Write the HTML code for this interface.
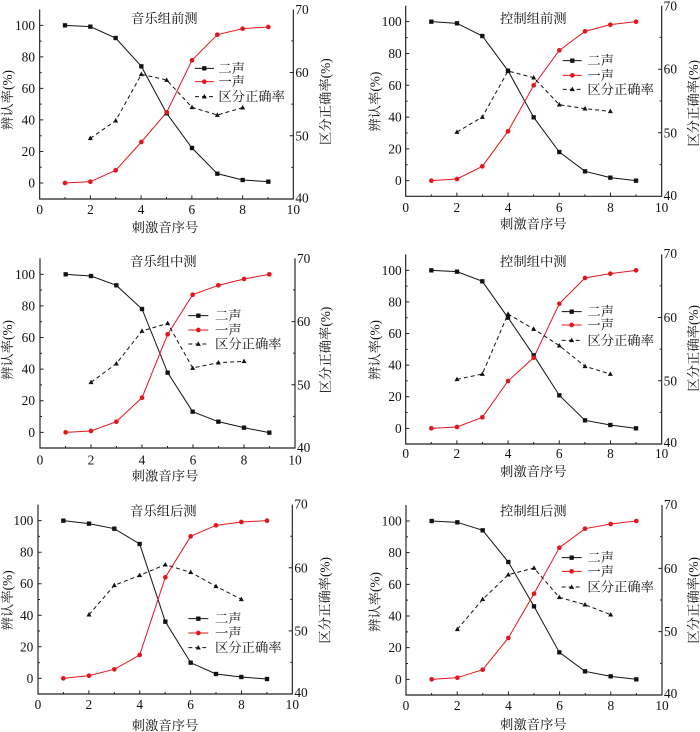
<!DOCTYPE html>
<html><head><meta charset="utf-8">
<style>
html,body{margin:0;padding:0;background:#fff;}
svg{display:block;}
text{font-family:"Liberation Serif","Noto Serif CJK SC",serif;font-size:40px;fill:#111;}
.ax{fill:none;stroke:#222;stroke-width:3.5;}
.tk{fill:none;stroke:#222;stroke-width:3;}
.k{fill:none;stroke:#111;stroke-width:3;}
.r{fill:none;stroke:#e3151d;stroke-width:3;}
.d{fill:none;stroke:#111;stroke-width:3;stroke-dasharray:12,9;}
.e{text-anchor:end;dominant-baseline:central;}
.m{text-anchor:middle;dominant-baseline:central;}
.s{text-anchor:start;dominant-baseline:central;}
</style></head><body>
<svg width="700" height="732" viewBox="0 0 700 732" xmlns="http://www.w3.org/2000/svg">
<defs>
<rect id="sq" x="-6.5" y="-6.5" width="13" height="13" fill="#111"/>
<circle id="ci" r="7" fill="#e3151d"/>
<path id="tr" d="M0,-8L7.5,5.5L-7.5,5.5Z" fill="#111"/>
</defs>

<!-- Panel 1 -->
<g transform="translate(0,0) scale(0.333333)">
<path class="ax" d="M119,28V597H880V28"/>
<path class="tk" d="M195.1,597v-6M271.2,597v-11M347.3,597v-6M423.4,597v-11M499.5,597v-6M575.6,597v-11M651.7,597v-6M727.8,597v-11M803.9,597v-6M119,549h11M119,454.4h11M119,359.8h11M119,265.2h11M119,170.6h11M119,76h11M119,501.7h6M119,407.1h6M119,312.5h6M119,217.9h6M119,123.3h6M880,407.3h-11M880,217.6h-11M880,502.2h-6M880,312.5h-6M880,122.8h-6"/>
<text class="e" x="105" y="549">0</text><text class="e" x="105" y="454.4">20</text><text class="e" x="105" y="359.8">40</text><text class="e" x="105" y="265.2">60</text><text class="e" x="105" y="170.6">80</text><text class="e" x="105" y="76">100</text>
<text class="m" x="119" y="628">0</text><text class="m" x="271.2" y="628">2</text><text class="m" x="423.4" y="628">4</text><text class="m" x="575.6" y="628">6</text><text class="m" x="727.8" y="628">8</text><text class="m" x="880" y="628">10</text>
<text class="s" x="886" y="594">40</text><text class="s" x="886" y="407.3">50</text><text class="s" x="886" y="217.6">60</text><text class="s" x="886" y="28">70</text>
<text class="m" x="495" y="683">刺激音序号</text>
<text class="m" transform="translate(22,300) rotate(-90)">辨认率(%)</text>
<text class="m" transform="translate(977,305) rotate(-90)">区分正确率(%)</text>
<text class="m" x="493" y="55">音乐组前测</text>
<polyline class="k" points="195,76 271,80 347,114 424,199 500,340 576,444 652,521 728,540 805,545"/>
<polyline class="r" points="195,549 271,545 347,511 424,426 500,337 576,181 652,104 728,86 805,81"/>
<polyline class="d" points="271,415 347,362 424,223 500,240 576,322 652,345 728,323"/>
<use href="#sq" x="195" y="76"/><use href="#sq" x="271" y="80"/><use href="#sq" x="347" y="114"/><use href="#sq" x="424" y="199"/><use href="#sq" x="500" y="340"/><use href="#sq" x="576" y="444"/><use href="#sq" x="652" y="521"/><use href="#sq" x="728" y="540"/><use href="#sq" x="805" y="545"/>
<use href="#ci" x="195" y="549"/><use href="#ci" x="271" y="545"/><use href="#ci" x="347" y="511"/><use href="#ci" x="424" y="426"/><use href="#ci" x="500" y="337"/><use href="#ci" x="576" y="181"/><use href="#ci" x="652" y="104"/><use href="#ci" x="728" y="86"/><use href="#ci" x="805" y="81"/>
<use href="#tr" x="271" y="415"/><use href="#tr" x="347" y="362"/><use href="#tr" x="424" y="223"/><use href="#tr" x="500" y="240"/><use href="#tr" x="576" y="322"/><use href="#tr" x="652" y="345"/><use href="#tr" x="728" y="323"/>
<path class="k" d="M585,205H642"/><use href="#sq" x="613" y="205"/><text class="s" x="655" y="205">二声</text>
<path class="r" d="M585,245H642"/><use href="#ci" x="613" y="245"/><text class="s" x="655" y="245">一声</text>
<path class="d" d="M585,290H642"/><use href="#tr" x="613" y="290"/><text class="s" x="655" y="290">区分正确率</text>
</g>

<!-- Panel 2 -->
<g transform="translate(350,0) scale(0.333333)">
<path class="ax" d="M167,17V589H935V17"/>
<path class="tk" d="M243.8,589v-6M320.6,589v-11M397.4,589v-6M474.2,589v-11M551,589v-6M627.8,589v-11M704.6,589v-6M781.4,589v-11M858.2,589v-6M167,542h11M167,446.6h11M167,351.2h11M167,255.8h11M167,160.4h11M167,65h11M167,494.3h6M167,398.9h6M167,303.5h6M167,208.1h6M167,112.7h6M935,398.3h-11M935,207.7h-11M935,493.7h-6M935,303h-6M935,112.3h-6"/>
<text class="e" x="155" y="542">0</text><text class="e" x="155" y="446.6">20</text><text class="e" x="155" y="351.2">40</text><text class="e" x="155" y="255.8">60</text><text class="e" x="155" y="160.4">80</text><text class="e" x="155" y="65">100</text>
<text class="m" x="167" y="622">0</text><text class="m" x="320.6" y="622">2</text><text class="m" x="474.2" y="622">4</text><text class="m" x="627.8" y="622">6</text><text class="m" x="781.4" y="622">8</text><text class="m" x="935" y="622">10</text>
<text class="s" x="941" y="587">40</text><text class="s" x="941" y="398.3">50</text><text class="s" x="941" y="207.7">60</text><text class="s" x="941" y="18">70</text>
<text class="m" x="550" y="672">刺激音序号</text>
<text class="m" transform="translate(75,305) rotate(-90)">辨认率(%)</text>
<text class="m" transform="translate(1030,310) rotate(-90)">区分正确率(%)</text>
<text class="m" x="550" y="55">控制组前测</text>
<polyline class="k" points="244,65 321,70 397,108 474,212 551,352 628,456 705,514 781,533 858,542"/>
<polyline class="r" points="244,542 321,537 397,499 474,394 551,256 628,151 705,94 781,74 858,65"/>
<polyline class="d" points="321,396 397,351 474,213 551,233 628,314 705,326 781,334"/>
<use href="#sq" x="244" y="65"/><use href="#sq" x="321" y="70"/><use href="#sq" x="397" y="108"/><use href="#sq" x="474" y="212"/><use href="#sq" x="551" y="352"/><use href="#sq" x="628" y="456"/><use href="#sq" x="705" y="514"/><use href="#sq" x="781" y="533"/><use href="#sq" x="858" y="542"/>
<use href="#ci" x="244" y="542"/><use href="#ci" x="321" y="537"/><use href="#ci" x="397" y="499"/><use href="#ci" x="474" y="394"/><use href="#ci" x="551" y="256"/><use href="#ci" x="628" y="151"/><use href="#ci" x="705" y="94"/><use href="#ci" x="781" y="74"/><use href="#ci" x="858" y="65"/>
<use href="#tr" x="321" y="396"/><use href="#tr" x="397" y="351"/><use href="#tr" x="474" y="213"/><use href="#tr" x="551" y="233"/><use href="#tr" x="628" y="314"/><use href="#tr" x="705" y="326"/><use href="#tr" x="781" y="334"/>
<path class="k" d="M638,182H695"/><use href="#sq" x="667" y="182"/><text class="s" x="712" y="182">二声</text>
<path class="r" d="M638,226H695"/><use href="#ci" x="667" y="226"/><text class="s" x="712" y="226">一声</text>
<path class="d" d="M638,268H695"/><use href="#tr" x="667" y="268"/><text class="s" x="712" y="268">区分正确率</text>
</g>

<!-- Panel 3 -->
<g transform="translate(0,245) scale(0.333333)">
<path class="ax" d="M120,40V609H885V40"/>
<path class="tk" d="M196.5,609v-6M273,609v-11M349.5,609v-6M426,609v-11M502.5,609v-6M579,609v-11M655.5,609v-6M732,609v-11M808.5,609v-6M120,562h11M120,467.2h11M120,372.4h11M120,277.6h11M120,182.8h11M120,88h11M120,514.6h6M120,419.8h6M120,325h6M120,230.2h6M120,135.4h6M885,419.3h-11M885,229.7h-11M885,514.2h-6M885,324.5h-6M885,134.8h-6"/>
<text class="e" x="105" y="562">0</text><text class="e" x="105" y="467.2">20</text><text class="e" x="105" y="372.4">40</text><text class="e" x="105" y="277.6">60</text><text class="e" x="105" y="182.8">80</text><text class="e" x="105" y="88">100</text>
<text class="m" x="120" y="645">0</text><text class="m" x="273" y="645">2</text><text class="m" x="426" y="645">4</text><text class="m" x="579" y="645">6</text><text class="m" x="732" y="645">8</text><text class="m" x="885" y="645">10</text>
<text class="s" x="891" y="607">40</text><text class="s" x="891" y="419.3">50</text><text class="s" x="891" y="229.7">60</text><text class="s" x="891" y="40">70</text>
<text class="m" x="495" y="693">刺激音序号</text>
<text class="m" transform="translate(22,315) rotate(-90)">辨认率(%)</text>
<text class="m" transform="translate(977,315) rotate(-90)">区分正确率(%)</text>
<text class="m" x="490" y="50">音乐组中测</text>
<polyline class="k" points="197,88 273,93 349,121 426,192 503,383 578,500 655,530 732,548 808,563"/>
<polyline class="r" points="197,562 273,558 349,530 426,458 503,268 578,149 655,121 732,102 808,88"/>
<polyline class="d" points="273,412 349,356 426,258 503,235 578,369 655,353 732,349"/>
<use href="#sq" x="197" y="88"/><use href="#sq" x="273" y="93"/><use href="#sq" x="349" y="121"/><use href="#sq" x="426" y="192"/><use href="#sq" x="503" y="383"/><use href="#sq" x="578" y="500"/><use href="#sq" x="655" y="530"/><use href="#sq" x="732" y="548"/><use href="#sq" x="808" y="563"/>
<use href="#ci" x="197" y="562"/><use href="#ci" x="273" y="558"/><use href="#ci" x="349" y="530"/><use href="#ci" x="426" y="458"/><use href="#ci" x="503" y="268"/><use href="#ci" x="578" y="149"/><use href="#ci" x="655" y="121"/><use href="#ci" x="732" y="102"/><use href="#ci" x="808" y="88"/>
<use href="#tr" x="273" y="412"/><use href="#tr" x="349" y="356"/><use href="#tr" x="426" y="258"/><use href="#tr" x="503" y="235"/><use href="#tr" x="578" y="369"/><use href="#tr" x="655" y="353"/><use href="#tr" x="732" y="349"/>
<path class="k" d="M565,212H625"/><use href="#sq" x="595" y="212"/><text class="s" x="645" y="212">二声</text>
<path class="r" d="M565,255H625"/><use href="#ci" x="595" y="255"/><text class="s" x="645" y="255">一声</text>
<path class="d" d="M565,297H625"/><use href="#tr" x="595" y="297"/><text class="s" x="645" y="297">区分正确率</text>
</g>

<!-- Panel 4 -->
<g transform="translate(350,245) scale(0.333333)">
<path class="ax" d="M167,28V597H935V28"/>
<path class="tk" d="M243.8,597v-6M320.6,597v-11M397.4,597v-6M474.2,597v-11M551,597v-6M627.8,597v-11M704.6,597v-6M781.4,597v-11M858.2,597v-6M167,550h11M167,455.2h11M167,360.4h11M167,265.6h11M167,170.8h11M167,76h11M167,502.6h6M167,407.8h6M167,313h6M167,218.2h6M167,123.4h6M935,407.3h-11M935,217.6h-11M935,502.2h-6M935,312.5h-6M935,122.8h-6"/>
<text class="e" x="155" y="550">0</text><text class="e" x="155" y="455.2">20</text><text class="e" x="155" y="360.4">40</text><text class="e" x="155" y="265.6">60</text><text class="e" x="155" y="170.8">80</text><text class="e" x="155" y="76">100</text>
<text class="m" x="167" y="625">0</text><text class="m" x="320.6" y="625">2</text><text class="m" x="474.2" y="625">4</text><text class="m" x="627.8" y="625">6</text><text class="m" x="781.4" y="625">8</text><text class="m" x="935" y="625">10</text>
<text class="s" x="941" y="592">40</text><text class="s" x="941" y="407.3">50</text><text class="s" x="941" y="217.6">60</text><text class="s" x="941" y="26">70</text>
<text class="m" x="550" y="680">刺激音序号</text>
<text class="m" transform="translate(75,315) rotate(-90)">辨认率(%)</text>
<text class="m" transform="translate(1030,310) rotate(-90)">区分正确率(%)</text>
<text class="m" x="550" y="50">控制组中测</text>
<polyline class="k" points="244,76 321,80 397,109 474,218 551,331 628,451 705,526 781,540 858,550"/>
<polyline class="r" points="244,550 321,546 397,517 474,408 551,338 628,176 705,99 781,86 858,76"/>
<polyline class="d" points="321,403 397,387 474,207 551,252 628,302 705,364 781,387"/>
<use href="#sq" x="244" y="76"/><use href="#sq" x="321" y="80"/><use href="#sq" x="397" y="109"/><use href="#sq" x="474" y="218"/><use href="#sq" x="551" y="331"/><use href="#sq" x="628" y="451"/><use href="#sq" x="705" y="526"/><use href="#sq" x="781" y="540"/><use href="#sq" x="858" y="550"/>
<use href="#ci" x="244" y="550"/><use href="#ci" x="321" y="546"/><use href="#ci" x="397" y="517"/><use href="#ci" x="474" y="408"/><use href="#ci" x="551" y="338"/><use href="#ci" x="628" y="176"/><use href="#ci" x="705" y="99"/><use href="#ci" x="781" y="86"/><use href="#ci" x="858" y="76"/>
<use href="#tr" x="321" y="403"/><use href="#tr" x="397" y="387"/><use href="#tr" x="474" y="207"/><use href="#tr" x="551" y="252"/><use href="#tr" x="628" y="302"/><use href="#tr" x="705" y="364"/><use href="#tr" x="781" y="387"/>
<path class="k" d="M635,200H695"/><use href="#sq" x="665" y="200"/><text class="s" x="712" y="200">二声</text>
<path class="r" d="M635,240H695"/><use href="#ci" x="665" y="240"/><text class="s" x="712" y="240">一声</text>
<path class="d" d="M635,286H695"/><use href="#tr" x="665" y="286"/><text class="s" x="712" y="286">区分正确率</text>
</g>

<!-- Panel 5 -->
<g transform="translate(0,487) scale(0.333333)">
<path class="ax" d="M114,53V621H877V53"/>
<path class="tk" d="M190.3,621v-6M266.6,621v-11M342.9,621v-6M419.2,621v-11M495.5,621v-6M571.8,621v-11M648.1,621v-6M724.4,621v-11M800.7,621v-6M114,574h11M114,479.4h11M114,384.8h11M114,290.2h11M114,195.6h11M114,101h11M114,526.7h6M114,432.1h6M114,337.5h6M114,242.9h6M114,148.3h6M877,431.7h-11M877,242.3h-11M877,526.3h-6M877,337h-6M877,147.7h-6"/>
<text class="e" x="100" y="574">0</text><text class="e" x="100" y="479.4">20</text><text class="e" x="100" y="384.8">40</text><text class="e" x="100" y="290.2">60</text><text class="e" x="100" y="195.6">80</text><text class="e" x="100" y="101">100</text>
<text class="m" x="114" y="652">0</text><text class="m" x="266.6" y="652">2</text><text class="m" x="419.2" y="652">4</text><text class="m" x="571.8" y="652">6</text><text class="m" x="724.4" y="652">8</text><text class="m" x="877" y="652">10</text>
<text class="s" x="883" y="617">40</text><text class="s" x="883" y="431.7">50</text><text class="s" x="883" y="242.3">60</text><text class="s" x="883" y="51">70</text>
<text class="m" x="495" y="715">刺激音序号</text>
<text class="m" transform="translate(22,340) rotate(-90)">辨认率(%)</text>
<text class="m" transform="translate(975,340) rotate(-90)">区分正确率(%)</text>
<text class="m" x="490" y="72">音乐组后测</text>
<polyline class="k" points="190,101 267,110 343,125 419,171 496,404 572,527 648,561 724,570 801,576"/>
<polyline class="r" points="190,574 267,566 343,547 419,504 496,271 572,148 648,115 724,105 801,101"/>
<polyline class="d" points="267,383 343,295 419,265 496,233 572,256 648,298 724,337"/>
<use href="#sq" x="190" y="101"/><use href="#sq" x="267" y="110"/><use href="#sq" x="343" y="125"/><use href="#sq" x="419" y="171"/><use href="#sq" x="496" y="404"/><use href="#sq" x="572" y="527"/><use href="#sq" x="648" y="561"/><use href="#sq" x="724" y="570"/><use href="#sq" x="801" y="576"/>
<use href="#ci" x="190" y="574"/><use href="#ci" x="267" y="566"/><use href="#ci" x="343" y="547"/><use href="#ci" x="419" y="504"/><use href="#ci" x="496" y="271"/><use href="#ci" x="572" y="148"/><use href="#ci" x="648" y="115"/><use href="#ci" x="724" y="105"/><use href="#ci" x="801" y="101"/>
<use href="#tr" x="267" y="383"/><use href="#tr" x="343" y="295"/><use href="#tr" x="419" y="265"/><use href="#tr" x="496" y="233"/><use href="#tr" x="572" y="256"/><use href="#tr" x="648" y="298"/><use href="#tr" x="724" y="337"/>
<path class="k" d="M565,395H625"/><use href="#sq" x="595" y="395"/><text class="s" x="645" y="395">二声</text>
<path class="r" d="M565,438H625"/><use href="#ci" x="595" y="438"/><text class="s" x="645" y="438">一声</text>
<path class="d" d="M565,482H625"/><use href="#tr" x="595" y="482"/><text class="s" x="645" y="482">区分正确率</text>
</g>

<!-- Panel 6 -->
<g transform="translate(350,487) scale(0.333333)">
<path class="ax" d="M168,54V624H936V54"/>
<path class="tk" d="M244.8,624v-6M321.6,624v-11M398.4,624v-6M475.2,624v-11M552,624v-6M628.8,624v-11M705.6,624v-6M782.4,624v-11M859.2,624v-6M168,577h11M168,482h11M168,387h11M168,292h11M168,197h11M168,102h11M168,529.5h6M168,434.5h6M168,339.5h6M168,244.5h6M168,149.5h6M936,434h-11M936,244h-11M936,529h-6M936,339h-6M936,149h-6"/>
<text class="e" x="155" y="577">0</text><text class="e" x="155" y="482">20</text><text class="e" x="155" y="387">40</text><text class="e" x="155" y="292">60</text><text class="e" x="155" y="197">80</text><text class="e" x="155" y="102">100</text>
<text class="m" x="168" y="655">0</text><text class="m" x="321.6" y="655">2</text><text class="m" x="475.2" y="655">4</text><text class="m" x="628.8" y="655">6</text><text class="m" x="782.4" y="655">8</text><text class="m" x="936" y="655">10</text>
<text class="s" x="942" y="620">40</text><text class="s" x="942" y="434">50</text><text class="s" x="942" y="244">60</text><text class="s" x="942" y="52">70</text>
<text class="m" x="550" y="712">刺激音序号</text>
<text class="m" transform="translate(75,345) rotate(-90)">辨认率(%)</text>
<text class="m" transform="translate(1030,340) rotate(-90)">区分正确率(%)</text>
<text class="m" x="550" y="72">控制组后测</text>
<polyline class="k" points="245,102 322,106 398,130 475,225 552,358 628,496 705,553 782,568 859,577"/>
<polyline class="r" points="245,577 322,572 398,548 475,453 552,320 628,182 705,125 782,111 859,102"/>
<polyline class="d" points="322,427 398,337 475,263 552,243 628,331 705,353 782,383"/>
<use href="#sq" x="245" y="102"/><use href="#sq" x="322" y="106"/><use href="#sq" x="398" y="130"/><use href="#sq" x="475" y="225"/><use href="#sq" x="552" y="358"/><use href="#sq" x="628" y="496"/><use href="#sq" x="705" y="553"/><use href="#sq" x="782" y="568"/><use href="#sq" x="859" y="577"/>
<use href="#ci" x="245" y="577"/><use href="#ci" x="322" y="572"/><use href="#ci" x="398" y="548"/><use href="#ci" x="475" y="453"/><use href="#ci" x="552" y="320"/><use href="#ci" x="628" y="182"/><use href="#ci" x="705" y="125"/><use href="#ci" x="782" y="111"/><use href="#ci" x="859" y="102"/>
<use href="#tr" x="322" y="427"/><use href="#tr" x="398" y="337"/><use href="#tr" x="475" y="263"/><use href="#tr" x="552" y="243"/><use href="#tr" x="628" y="331"/><use href="#tr" x="705" y="353"/><use href="#tr" x="782" y="383"/>
<path class="k" d="M635,212H695"/><use href="#sq" x="665" y="212"/><text class="s" x="712" y="212">二声</text>
<path class="r" d="M635,253H695"/><use href="#ci" x="665" y="253"/><text class="s" x="712" y="253">一声</text>
<path class="d" d="M635,300H695"/><use href="#tr" x="665" y="300"/><text class="s" x="712" y="300">区分正确率</text>
</g>
</svg>
</body></html>
